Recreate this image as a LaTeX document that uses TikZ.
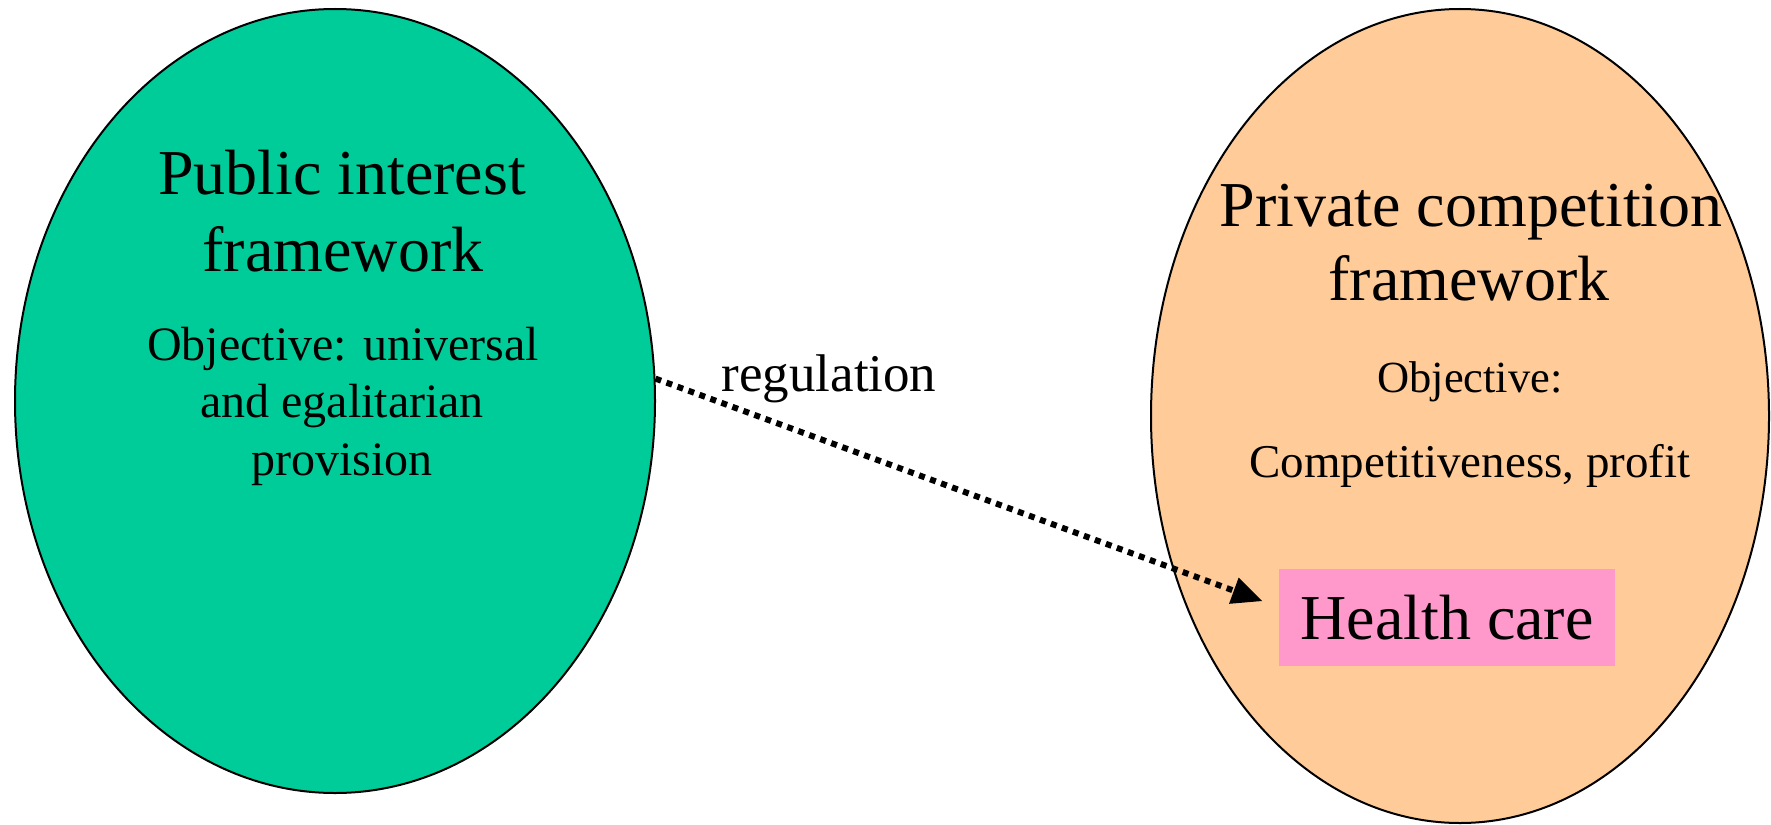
\documentclass[tikz,border=0pt]{standalone}
\usepackage{fontspec}
\setmainfont{Liberation Serif}
\usetikzlibrary{shapes.geometric,arrows.meta}
\definecolor{pubgreen}{HTML}{00CC99}
\definecolor{privpeach}{HTML}{FFCC99}
\definecolor{hpink}{HTML}{FF99CC}
\tikzset{
  oval/.style={ellipse, draw=black, line width=2pt, inner sep=0pt},
  txt/.style={anchor=base, inner sep=0pt, text=black},
  ftitle/.style={font=\fontsize{64}{76}\selectfont},
  fbody/.style={font=\fontsize{48}{57}\selectfont},
  fbodyr/.style={font=\fontsize{47}{56}\selectfont},
  flabel/.style={font=\fontsize{53}{62}\selectfont},
  hbox/.style={rectangle, fill=hpink, inner sep=0pt, minimum width=336pt, minimum height=97pt, font=\fontsize{64}{76}\selectfont},
  regarrow/.style={line width=6pt, dash pattern=on 6pt off 5.7pt, -{Triangle[length=30pt,width=28pt,line width=0pt]}}
}
\begin{document}
\begin{tikzpicture}[x=1pt,y=-1pt]
\useasboundingbox (0,0) rectangle (1771,824);
% ellipses
\node[oval, fill=pubgreen, minimum width=640pt, minimum height=784pt] (left) at (335,401) {};
\node[oval, fill=privpeach, minimum width=618pt, minimum height=814pt] (right) at (1460,416) {};
% left texts
\node[txt, ftitle] (lt1) at (342,194) {Public interest};
\node[txt, ftitle] (lt2) at (343,271) {framework};
\node[txt, fbody] (lo1) at (343,360) {Objective: universal};
\node[txt, fbody] (lo2) at (342,417) {and egalitarian};
\node[txt, fbody] (lo3) at (342,475) {provision};
% right texts
\node[txt, ftitle] (rt1) at (1471,226) {Private competition};
\node[txt, ftitle] (rt2) at (1469,300) {framework};
\node[txt, font=\fontsize{44.5}{54}\selectfont] (ro1) at (1470,392) {Objective:};
\node[txt, fbodyr] (ro2) at (1470,477) {Competitiveness, profit};
% health care box
\node[hbox] (health) at (1447,617.5) {Health care};
% regulation label and arrow
\node[txt, flabel] (reg) at (829,391) {regulation};
\coordinate (tip) at (1262,601);
\draw[regarrow] (left.4.5) -- (tip);
\end{tikzpicture}
\end{document}
